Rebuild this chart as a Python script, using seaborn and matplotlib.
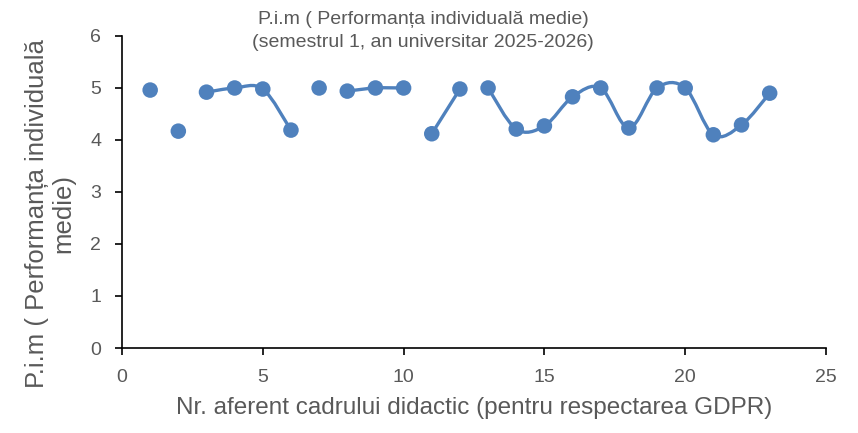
import matplotlib
matplotlib.use("Agg")
import matplotlib.pyplot as plt
from matplotlib.path import Path
from matplotlib.patches import PathPatch
import seaborn as sns
import pandas as pd

# Date
cadre = list(range(1, 24))
pim = [4.96, 4.17, 4.92, 5.00, 4.98, 4.19, 5.00, 4.94, 5.00, 5.00,
       4.12, 4.98, 5.00, 4.21, 4.27, 4.83, 5.00, 4.23, 5.00, 5.00,
       4.10, 4.29, 4.90]
# grupuri de puncte unite prin linie (restul sunt izolate)
grupuri = [(3, 6), (8, 10), (11, 12), (13, 23)]

titlu = "P.i.m ( Performanța individuală medie)\n(semestrul 1, an universitar 2025-2026)"
eticheta_x = "Nr. aferent cadrului didactic (pentru respectarea GDPR)"
eticheta_y = "P.i.m ( Performanța individuală\nmedie)"

ALBASTRU = "#4F81BD"
GRI = "#595959"

sns.set_style("ticks")
plt.rcParams['font.family'] = ['Liberation Sans', 'DejaVu Sans']

df = pd.DataFrame({'cadru': cadre, 'pim': pim})

fig = plt.figure(figsize=(8.58, 4.33), dpi=100)
ax = fig.add_axes([0.1422, 0.1963, 0.8205, 0.7206])


def linie_neteda(xs, ys):
    # curba Bezier de tip Excel (Catmull-Rom, tensiune 1/6)
    pts = list(zip(xs, ys))
    n = len(pts)
    verts = [pts[0]]
    codes = [Path.MOVETO]
    for i in range(n - 1):
        p0 = pts[i - 1] if i > 0 else pts[i]
        p1 = pts[i]
        p2 = pts[i + 1]
        p3 = pts[i + 2] if i + 2 < n else pts[i + 1]
        c1 = (p1[0] + (p2[0] - p0[0]) / 6, p1[1] + (p2[1] - p0[1]) / 6)
        c2 = (p2[0] - (p3[0] - p1[0]) / 6, p2[1] - (p3[1] - p1[1]) / 6)
        verts += [c1, c2, p2]
        codes += [Path.CURVE4] * 3
    return Path(verts, codes)


for a, b in grupuri:
    sub = df[(df.cadru >= a) & (df.cadru <= b)]
    patch = PathPatch(linie_neteda(sub.cadru.tolist(), sub.pim.tolist()),
                      facecolor='none', edgecolor=ALBASTRU, lw=2.4,
                      capstyle='round', joinstyle='round', zorder=2)
    ax.add_patch(patch)

sns.scatterplot(data=df, x='cadru', y='pim', ax=ax, color=ALBASTRU,
                s=125, edgecolor='none', zorder=3, clip_on=False)

ax.set_xlim(0, 25)
ax.set_ylim(0, 6)
ax.set_xticks(range(0, 26, 5))
ax.set_yticks(range(0, 7))
ax.tick_params(axis='both', colors='black', labelcolor=GRI, labelsize=14,
               length=5, width=1.2, direction='out', pad=10)
for s in ['left', 'bottom']:
    ax.spines[s].set_color('black')
    ax.spines[s].set_linewidth(1.2)
sns.despine(ax=ax)

ax.set_xlabel(eticheta_x, color=GRI, fontsize=17.5, labelpad=8)
ax.set_ylabel('')
ax.text(-0.102, 0.43, eticheta_y, transform=ax.transAxes, rotation=90,
        ha='center', va='center', multialignment='center', color=GRI,
        fontsize=18.5, linespacing=1.15)
fig.text(0.493, 0.975, titlu, ha='center', va='top', color=GRI,
         fontsize=14, linespacing=1.5)

fig.savefig('out.png', dpi=100)
